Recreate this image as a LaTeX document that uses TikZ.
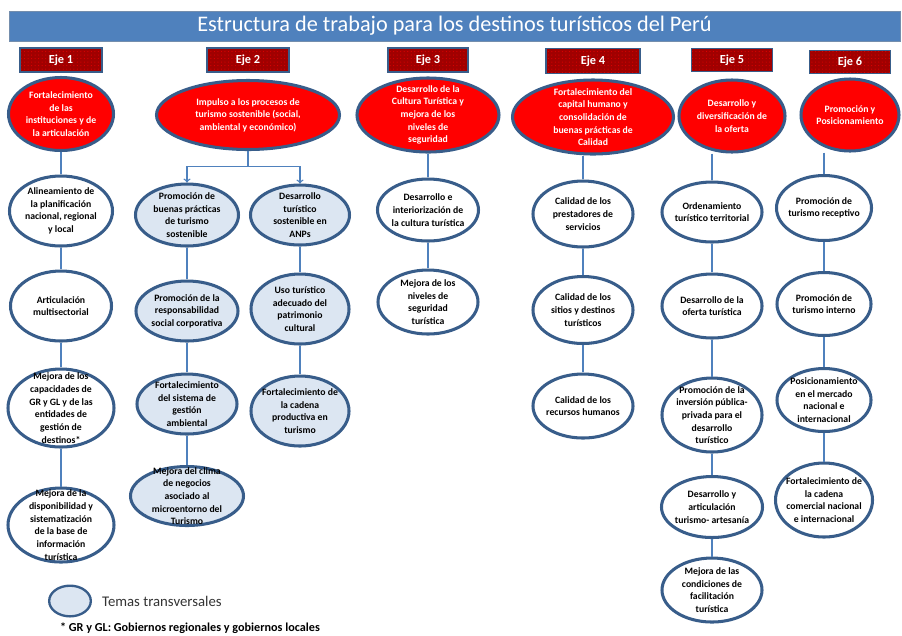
\documentclass[tikz,border=0pt]{standalone}
\usepackage{fontspec}
\setmainfont{Carlito}
\usepackage{tikz}
\usetikzlibrary{positioning, shapes.geometric, patterns}
\definecolor{barblue}{HTML}{4F81BD}
\definecolor{edgeblue}{HTML}{385D8A}
\definecolor{paleblue}{HTML}{DCE6F2}
\definecolor{ejered}{HTML}{A00000}
\tikzstyle{banner} = [rectangle, minimum width=26.73cm, minimum height=0.9cm, draw=edgeblue!70, fill=barblue, text=white, font=\fontsize{19}{22}\selectfont]
\tikzstyle{ejebox} = [rectangle, minimum width=2.46cm, minimum height=0.72cm, text centered, draw=edgeblue, line width=1.2pt, preaction={fill=ejered}, pattern=dots, pattern color=red!65!ejered, text=white, font=\fontsize{10.5}{12}\selectfont\bfseries]
\tikzstyle{bubble} = [ellipse, draw=edgeblue, line width=2.6pt, inner xsep=-4pt, inner ysep=-8pt, minimum width=3.0cm, minimum height=1.92cm, align=center, font=\fontsize{8.3}{10.8}\selectfont\bfseries]
\tikzstyle{goal} = [bubble, fill=red, text=white]
\tikzstyle{topic} = [bubble, fill=white]
\tikzstyle{cross} = [bubble, fill=paleblue]
\tikzstyle{link} = [draw=barblue, line width=2pt]
\tikzstyle{arrow} = [draw=barblue, line width=1.2pt, ->, >=to]

\begin{document}
\begin{tikzpicture}[x=0.03cm, y=-0.03cm, on grid, node distance=2.9cm]
	\useasboundingbox (0,0) rectangle (902,635);
	\node (title) [banner] at (454.5,26) {Estructura de trabajo para los destinos turísticos del Perú};
	
	% ejes
	\node (eje1) [ejebox] at (61,60) {Eje 1};
	\node (eje2) [ejebox] at (248,60) {Eje 2};
	\node (eje3) [ejebox, minimum width=2.4cm] at (428,60) {Eje 3};
	\node (eje4) [ejebox, minimum width=2.82cm, minimum height=0.75cm] at (593,61) {Eje 4};
	\node (eje5) [ejebox, minimum width=2.43cm, minimum height=0.69cm] at (732,60) {Eje 5};
	\node (eje6) [ejebox, minimum width=2.43cm, minimum height=0.69cm] at (850,62) {Eje 6};
	
	\node (goal1) [goal, below=1.62cm of eje1, minimum width=3.15cm, minimum height=2.19cm] {Fortalecimiento\\de las\\instituciones y de\\la articulación};
	\node (goal2) [goal, below=1.65cm of eje2, minimum width=5.49cm, minimum height=2.07cm] {Impulso a los procesos de\\turismo sostenible (social,\\ambiental y económico)};
	\node (goal3) [goal, below=1.65cm of eje3, minimum width=4.26cm, minimum height=2.22cm] {Desarrollo de la\\Cultura Turística y\\mejora de los\\niveles de\\seguridad};
	\node (goal4) [goal, below=1.68cm of eje4, minimum width=4.83cm, minimum height=2.22cm] {Fortalecimiento del\\capital humano y\\consolidación de\\buenas prácticas de\\Calidad};
	\node (goal5) [goal, below=1.68cm of eje5, minimum width=3.18cm, minimum height=2.16cm] {Desarrollo y\\diversificación de\\la oferta};
	\node (goal6) [goal, below=1.59cm of eje6, minimum width=2.94cm, minimum height=2.16cm] {Promoción y\\Posicionamiento};
	
	% eje 1
	\node (alineamiento) [topic, below=2.91cm of goal1, minimum width=3.09cm, minimum height=2.1cm] {Alineamiento de\\la planificación\\nacional, regional\\y local};
	\node (articulacion) [topic, below=2.85cm of alineamiento, minimum width=3.03cm, minimum height=2.1cm] {Articulación\\multisectorial};
	\node (capacidades) [topic, below=3.06cm of articulacion, minimum width=3.18cm, minimum height=2.34cm] {Mejora de los\\capacidades de\\GR y GL y de las\\entidades de\\gestión de\\destinos*};
	\node (sistematizacion) [topic, below=3.51cm of capacidades, minimum width=3.18cm, minimum height=2.22cm] {Mejora de la\\disponibilidad y\\sistematización\\de la base de\\información\\turística};
	
	% eje 2
	\node (buenaspracticas) [cross, below left=3.0cm and 1.83cm of goal2, minimum width=3.09cm, minimum height=1.86cm] {Promoción de\\buenas prácticas\\de turismo\\sostenible};
	\node (responsabilidad) [cross, below=2.88cm of buenaspracticas, minimum width=3.06cm, minimum height=1.8cm] {Promoción de la\\responsabilidad\\social corporativa};
	\node (gestionambiental) [cross, below=2.79cm of responsabilidad, minimum height=1.8cm] {Fortalecimiento\\del sistema de\\gestión\\ambiental};
	\node (clima) [cross, below=2.76cm of gestionambiental, minimum width=3.39cm, minimum height=1.77cm] {Mejora del clima\\de negocios\\asociado al\\microentorno del\\Turismo};
	\node (anps) [cross, below right=3.0cm and 1.56cm of goal2, minimum width=2.97cm, minimum height=1.8cm] {Desarrollo\\turístico\\sostenible en\\ANPs};
	\node (patrimonio) [cross, below=2.82cm of anps, minimum width=2.94cm, minimum height=2.1cm] {Uso turístico\\adecuado del\\patrimonio\\cultural};
	\node (cadenaproductiva) [cross, below=3.06cm of patrimonio, minimum width=2.94cm, minimum height=2.1cm] {Fortalecimiento de\\la cadena\\productiva en\\turismo};
	
	% eje 3
	\node (interiorizacion) [topic, below=2.85cm of goal3, minimum width=3.03cm, minimum height=1.86cm] {Desarrollo e\\interiorización de\\la cultura turística};
	\node (seguridad) [topic, below=2.76cm of interiorizacion] {Mejora de los\\niveles de\\seguridad\\turística};
	
	% eje 4
	\node (prestadores) [topic, below left=2.91cm and 0.3cm of goal4, minimum height=1.98cm] {Calidad de los\\prestadores de\\servicios};
	\node (sitios) [topic, below=2.88cm of prestadores, minimum height=2.01cm] {Calidad de los\\sitios y destinos\\turísticos};
	\node (recursos) [topic, below=2.88cm of sitios] {Calidad de los\\recursos humanos};
	
	% eje 5
	\node (ordenamiento) [topic, below left=2.88cm and 0.6cm of goal5, minimum height=1.8cm] {Ordenamiento\\turístico territorial};
	\node (oferta) [topic, below=2.82cm of ordenamiento] {Desarrollo de la\\oferta turística};
	\node (inversion) [topic, below=3.27cm of oferta, minimum height=2.22cm] {Promoción de la\\inversión pública-\\privada para el\\desarrollo\\turístico};
	\node (artesania) [topic, below=2.76cm of inversion, minimum width=3.03cm, minimum height=1.83cm] {Desarrollo y\\articulación\\turismo- artesanía};
	\node (facilitacion) [topic, below=2.49cm of artesania] {Mejora de las\\condiciones de\\facilitación\\turística};
	
	% eje 6
	\node (receptivo) [topic, below left=2.79cm and 0.78cm of goal6, minimum width=2.85cm, minimum height=1.95cm] {Promoción de\\turismo receptivo};
	\node (interno) [topic, below=2.88cm of receptivo, minimum width=2.82cm, minimum height=1.89cm] {Promoción de\\turismo interno};
	\node (posicionamiento) [topic, below=2.88cm of interno, minimum width=2.82cm, minimum height=1.89cm] {Posicionamiento\\en el mercado\\nacional e\\internacional};
	\node (cadenacomercial) [topic, below=3.0cm of posicionamiento, minimum width=2.91cm, minimum height=2.22cm] {Fortalecimiento de\\la cadena\\comercial nacional\\e internacional};
	
	% leyenda
	\node (legend) [cross, minimum width=1.25cm, minimum height=0.92cm, line width=2pt] at (70,601) {};
	\node (legendtext) [anchor=west, text=black!80, font=\fontsize{12.6}{14}\selectfont] at (98,601) {Temas transversales};
	\node (note) [anchor=west, font=\fontsize{10.4}{12}\selectfont\bfseries] at (56,628) {* GR y GL: Gobiernos regionales y gobiernos locales};
	
	\coordinate [below=0.47cm of goal2.south] (split);
	
	\draw [link] (goal1) -- (alineamiento);
	\draw [link] (alineamiento) -- (articulacion);
	\draw [link] (articulacion) -- (capacidades);
	\draw [link] (capacidades) -- (sistematizacion);
	
	\draw [link] (goal2) -- (split);
	\draw [arrow] (split) -| (buenaspracticas);
	\draw [arrow] (split) -| (anps);
	\draw [link] (buenaspracticas) -- (responsabilidad);
	\draw [link] (responsabilidad) -- (gestionambiental);
	\draw [link] (gestionambiental) -- (clima);
	\draw [link] (anps) -- (patrimonio);
	\draw [link] (patrimonio) -- (cadenaproductiva);
	
	\draw [link] (goal3) -- (interiorizacion);
	\draw [link] (interiorizacion) -- (seguridad);
	
	\draw [link] (prestadores |- goal4.south) -- (prestadores);
	\draw [link] (prestadores) -- (sitios);
	\draw [link] (sitios) -- (recursos);
	
	\draw [link] (ordenamiento |- goal5.south) -- (ordenamiento);
	\draw [link] (ordenamiento) -- (oferta);
	\draw [link] (oferta) -- (inversion);
	\draw [link] (inversion) -- (artesania);
	\draw [link] (artesania) -- (facilitacion);
	
	\draw [link] (receptivo |- goal6.south) -- (receptivo);
	\draw [link] (receptivo) -- (interno);
	\draw [link] (interno) -- (posicionamiento);
	\draw [link] (posicionamiento) -- (cadenacomercial);
	
\end{tikzpicture}
\end{document}
